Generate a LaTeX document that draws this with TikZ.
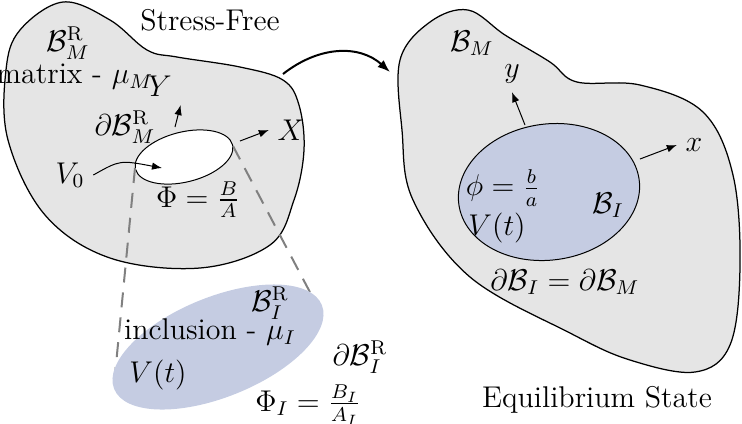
\documentclass[tikz,border=0pt]{standalone}
\usepackage{amsmath, amssymb}
\usepackage{tikz}
\usetikzlibrary{positioning, calc, arrows.meta}

\definecolor{bodygray}{RGB}{229,229,229}
\definecolor{inclblue}{RGB}{197,204,226}

\tikzset{
    body/.style={draw=black, fill=bodygray, line width=0.5pt},
    axis/.style={-{Latex[length=4pt]}, line width=0.4pt},
    cone/.style={dashed, draw=gray, line width=0.8pt, dash pattern=on 6pt off 4pt},
}

\begin{document}
\begin{tikzpicture}[x=0.4pt, y=-0.4pt, every node/.style={font=\large}]
    \useasboundingbox (0,0) rectangle (742,423);

    % reference (stress-free) body
    \draw[body] plot[smooth cycle, tension=0.6] coordinates {
        (20,30) (63,2) (110,20) (147,50) (177,57) (240,67) (283,80)
        (299,105) (304,150) (294,200) (270,245) (200,268) (110,258)
        (45,215) (8,140) (6,70)};
    \draw[fill=white, rotate around={14:(184,157)}] (184,157) ellipse (50 and 25);
    \coordinate (holeL) at (135,168);
    \coordinate (holeR) at (233,146);

    % deformed (equilibrium) body
    \draw[body] plot[smooth cycle, tension=0.6] coordinates {
        (400,60) (430,22) (468,10) (505,35) (550,62) (577,82) (640,85)
        (703,112) (733,175) (740,267) (730,345) (695,372) (630,360)
        (570,333) (470,277) (413,200) (402,130)};
    \draw[fill=inclblue, rotate around={8:(549,192)}] (549,192) ellipse (91 and 68);

    % zoomed inclusion
    \coordinate (inclL) at (115,375);
    \coordinate (inclR) at (322,315);
    \draw[cone] (holeL) -- (inclL);
    \draw[cone] (holeR) -- (inclR);
    \fill[inclblue, rotate around={22:(218,347)}] (218,347) ellipse (112 and 50);

    % transition arrow
    \coordinate (trA) at (283,74);
    \coordinate (trB) at (390,72);
    \draw[-{Latex[length=5pt]}, line width=0.8pt] (trA) .. controls (320,45) and (360,45) .. (trB);

    % labels, left body
    \node (sfree) at (210,20) {Stress-Free};
    \node (BMR) at (68,43) {$\mathcal{B}_M^{\mathrm{R}}$};
    \node (matrix) at (75,77) {matrix - $\mu_M$};
    \node (Ylab) at (160,86) {$Y$};
    \coordinate (Yo) at (175,127);
    \draw[axis] (Yo) -- (Ylab.south east);
    \node (Xlab) at (291,130) {$X$};
    \coordinate (Xo) at (240,141);
    \draw[axis] (Xo) -- (Xlab.west);
    \node (dBMR) at (125,127) {$\partial\mathcal{B}_M^{\mathrm{R}}$};
    \node (V0) at (70,175) {$V_0$};
    \coordinate (holeC) at (162,168);
    \draw[axis] (V0.east) .. controls (120,160) .. (holeC);
    \node (Phi) at (198,200) {$\Phi = \frac{B}{A}$};

    % labels, inclusion
    \node (BIR) at (270,303) {$\mathcal{B}_I^{\mathrm{R}}$};
    \node (incl) at (210,332) {inclusion - $\mu_I$};
    \node (Vt1) at (158,375) {$V(t)$};
    \node (dBIR) at (360,357) {$\partial\mathcal{B}_I^{\mathrm{R}}$};
    \node (PhiI) at (308,405) {$\Phi_I = \frac{B_I}{A_I}$};

    % labels, right body
    \node (BM) at (472,43) {$\mathcal{B}_M$};
    \node (ylab) at (512,74) {$y$};
    \coordinate (yo) at (525,125);
    \draw[axis] (yo) -- (ylab.south);
    \node (xlab) at (694,145) {$x$};
    \coordinate (xo) at (640,159);
    \draw[axis] (xo) -- (xlab.west);
    \node (phi) at (503,188) {$\phi = \frac{b}{a}$};
    \node (BI) at (608,205) {$\mathcal{B}_I$};
    \node (Vt2) at (497,228) {$V(t)$};
    \node (dBI) at (565,282) {$\partial\mathcal{B}_I = \partial\mathcal{B}_M$};
    \node (eq) at (597,400) {Equilibrium State};
\end{tikzpicture}
\end{document}
